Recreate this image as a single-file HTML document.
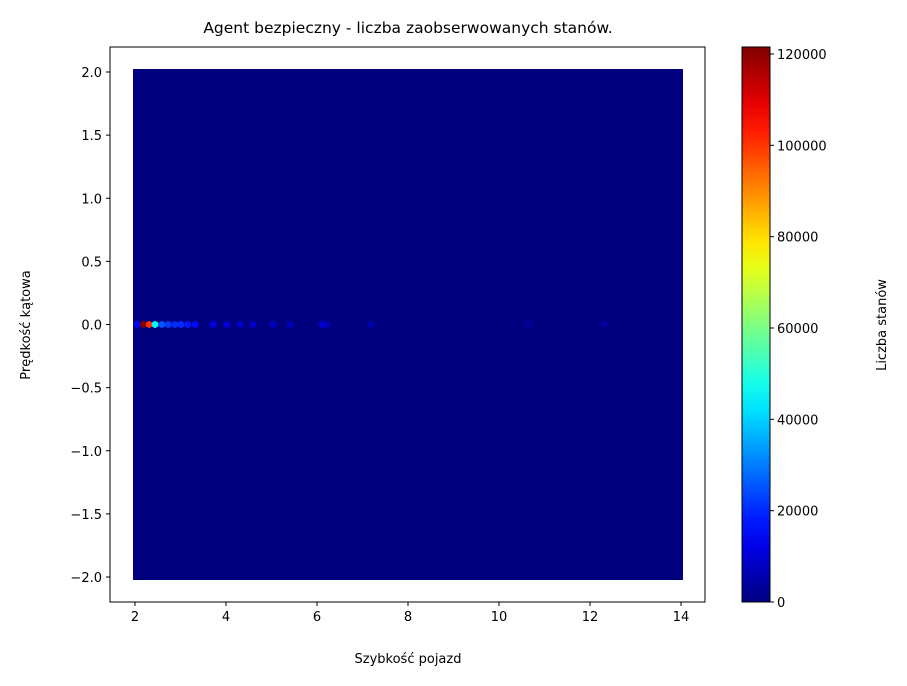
<!DOCTYPE html>
<html><head><meta charset="utf-8"><style>
body{margin:0;background:#fff;font-family:"Liberation Sans","DejaVu Sans",sans-serif}
svg text{font-family:"DejaVu Sans","Liberation Sans",sans-serif;font-size:13px;fill:#000}
</style></head><body>
<svg id="c" width="907" height="681" xmlns="http://www.w3.org/2000/svg"></svg>
<script>
const xTicks=[2,4,6,8,10,12,14];
const yTicks=[2.0,1.5,1.0,0.5,0.0,-0.5,-1.0,-1.5,-2.0];
const cbTicks=[0,20000,40000,60000,80000,100000,120000];
const hotX=[2.05,2.18,2.31,2.44,2.59,2.73,2.88,3.01,3.16,3.32,3.71,4.02,4.31,4.59,5.03,5.41,6.11,6.22,7.19,10.64,12.31];
const hotY=[0,0,0,0,0,0,0,0,0,0,0,0,0,0,0,0,0,0,0,0,0];
const hotC=[15000,121000,100000,45000,25000,22000,20000,20000,18000,16000,12000,10000,9000,9000,8000,7000,10000,7000,5000,4000,4000];
const NS="http://www.w3.org/2000/svg",svg=document.getElementById('c');
const X=v=>135+(v-2)*45.5, Y=v=>324.5-v*126.25, CB=v=>602-v*(548/120000);
function el(t,a,p){const e=document.createElementNS(NS,t);for(const k in a)e.setAttribute(k,a[k]);(p||svg).appendChild(e);return e;}
function jet(t){t=Math.max(0,Math.min(1,t));const f=x=>Math.max(0,Math.min(1,1.5-Math.abs(4*t-x)));const r=f(3),g=f(2),b=f(1);return `rgb(${Math.round(r*255)},${Math.round(g*255)},${Math.round(b*255)})`;}
el('text',{x:408,y:33,'text-anchor':'middle',style:'font-size:15.5px'}).textContent='Agent bezpieczny - liczba zaobserwowanych stanów.';
// background field
const bg=el('rect',{x:133,y:69,width:550,height:511,fill:'#00007f'});


function hex(cx,cy,c){const w=3.2,h=3.8;let p=[[0,-h],[w,-h/2],[w,h/2],[0,h],[-w,h/2],[-w,-h/2]].map(q=>(cx+q[0])+','+(cy+q[1])).join(' ');return el('polygon',{points:p,fill:c});}
for(let i=0;i<hotX.length;i++){
 const h=hex(X(hotX[i]),Y(hotY[i]),jet(hotC[i]/121000));
 
 
}
// axes
el('rect',{x:110,y:47,width:595,height:555,fill:'none',stroke:'#000','stroke-width':1});
xTicks.forEach(v=>{const x=X(v);el('line',{x1:x,x2:x,y1:602,y2:606,stroke:'#000'});const t=el('text',{x:x,y:621,'text-anchor':'middle'});t.textContent=v;});
yTicks.forEach(v=>{const y=Y(v);el('line',{x1:106,x2:110,y1:y,y2:y,stroke:'#000'});const t=el('text',{x:102,y:y+5,'text-anchor':'end'});t.textContent=v.toFixed(1).replace('-','−');});
const xt=el('text',{x:408,y:663,'text-anchor':'middle'});xt.textContent='Szybkość pojazd';
const yt=el('text',{x:0,y:0,'text-anchor':'middle',transform:'translate(30,325) rotate(-90)'});yt.textContent='Prędkość kątowa';
// colorbar
const defs=el('defs',{});const g=el('linearGradient',{id:'jg',x1:0,y1:1,x2:0,y2:0},defs);
for(let i=0;i<=20;i++)el('stop',{offset:i/20,'stop-color':jet(i/20*(548/548))},g);
const cb=el('rect',{x:742,y:47,width:28,height:555,fill:'url(#jg)',stroke:'#000','stroke-width':1});

cbTicks.forEach(v=>{const y=CB(v);el('line',{x1:770,x2:774,y1:y,y2:y,stroke:'#000'});const t=el('text',{x:777,y:y+5});t.textContent=v;});
const ct=el('text',{x:0,y:0,'text-anchor':'middle',transform:'translate(886,325) rotate(-90)'});ct.textContent='Liczba stanów';
</script>
</body></html>
